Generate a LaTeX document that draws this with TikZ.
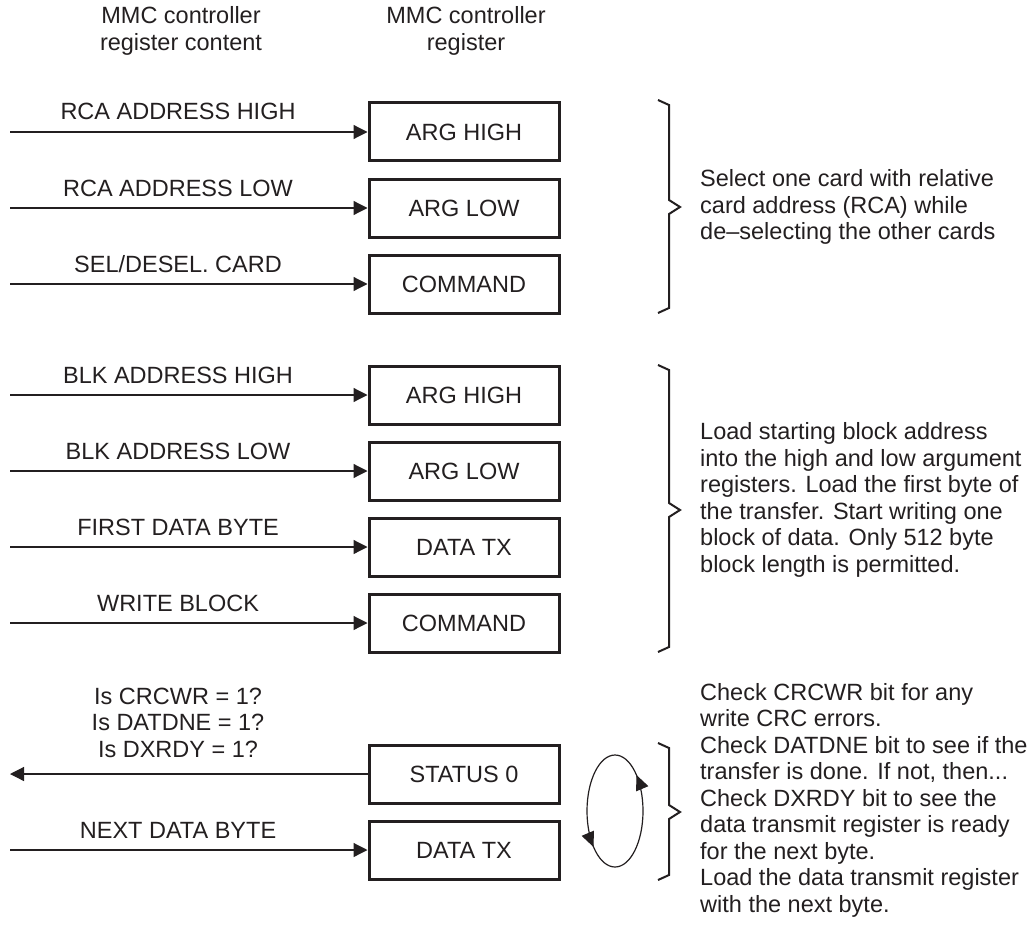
\documentclass[tikz,border=0pt]{standalone}
\usepackage{fontspec}
\setmainfont{Liberation Sans}
\usetikzlibrary{arrows.meta,decorations.markings}

\definecolor{ink}{HTML}{231F20}

\tikzset{
  reg/.style={draw=ink,line width=3pt,minimum width=190pt,minimum height=58pt,inner sep=0pt},
  feed/.style={draw=ink,line width=1.2pt,-{Triangle[length=14pt,width=14pt]}},
  lbl/.style={anchor=base,yshift=12pt,inner sep=0pt},
  note/.style={anchor=west,align=left,inner sep=0pt},
  grp/.style={draw=ink,line width=2pt},
  cyc/.style={draw=ink,line width=1.2pt,postaction={decorate},
    decoration={markings,
      mark=at position 0.136 with {\arrow{Triangle[length=15pt,width=13pt]}},
      mark=at position 0.636 with {\arrow{Triangle[length=15pt,width=13pt]}}}}
}

% brace: top, tip, bottom
\newcommand{\grpbrace}[3]{%
  \draw[grp] (658,#1) -- (669,#1+5) -- (669,#2-7) -- (680,#2) -- (669,#2+7) -- (669,#3-5) -- (658,#3);}

\begin{document}
\begin{tikzpicture}[x=1pt,y=-1pt,font=\fontsize{23.5}{26.5}\selectfont,text=ink]
\useasboundingbox (0,0) rectangle (1032,936);

% column heads
\node[align=center] (hcont) at (181,31) {MMC controller\\register content};
\node[align=center] (hreg) at (466,31) {MMC controller\\register};

% registers written from the left
\foreach \nm/\y/\reg/\txt in {ah1/132/ARG HIGH/RCA ADDRESS HIGH,
                              al1/208/ARG LOW/RCA ADDRESS LOW,
                              cmd1/284/COMMAND/{SEL/DESEL. CARD},
                              ah2/395/ARG HIGH/BLK ADDRESS HIGH,
                              al2/471/ARG LOW/BLK ADDRESS LOW,
                              dtx1/547/DATA TX/FIRST DATA BYTE,
                              cmd2/623/COMMAND/WRITE BLOCK,
                              dtx2/850/DATA TX/NEXT DATA BYTE}{
  \node[reg] (\nm) at (464,\y) {\reg};
  \coordinate (\nm-in) at (10,\y);
  \draw[feed] (\nm-in) -- (\nm) node[lbl,pos=0.47] {\txt};
}

% status read back
\node[reg] (st0) at (464,774) {STATUS 0};
\coordinate (st0-out) at (10,774);
\draw[feed] (st0) -- (st0-out)
  node[pos=0.53,anchor=south,yshift=16pt,inner sep=0pt,align=center] {Is CRCWR = 1?\\Is DATDNE = 1?\\Is DXRDY = 1?};

% polling loop
\draw[cyc] (615,811) ellipse[x radius=28pt,y radius=56pt];

% braces and notes
\grpbrace{100}{207}{313}
\grpbrace{365}{510}{652}
\grpbrace{743}{812}{880}

\node[note] (n1) at (700,207) {Select one card with relative\\card address (RCA) while\\de--selecting the other cards};
\node[note] (n2) at (700,500) {Load starting block address\\into the high and low argument\\registers. Load the first byte of\\the transfer. Start writing one\\block of data. Only 512 byte\\block length is permitted.};
\node[note] (n3) at (700,800) {Check CRCWR bit for any\\write CRC errors.\\Check DATDNE bit to see if the\\transfer is done. If not, then...\\Check DXRDY bit to see the\\data transmit register is ready\\for the next byte.\\Load the data transmit register\\with the next byte.};
\end{tikzpicture}
\end{document}
